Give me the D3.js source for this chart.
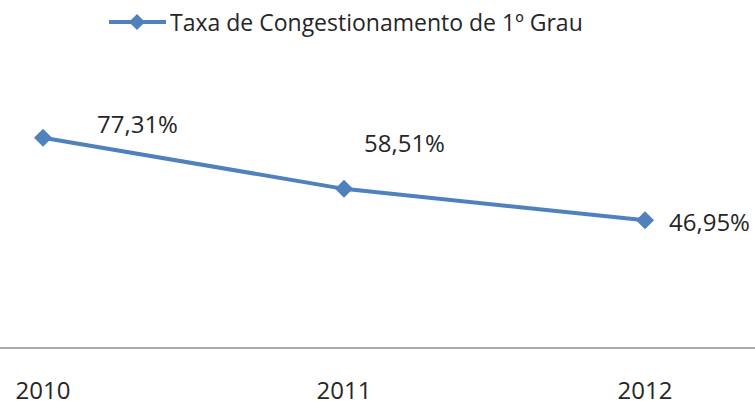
<!DOCTYPE html>
<html>
<head>
<meta charset="utf-8">
<script src="https://cdn.jsdelivr.net/npm/d3@7"></script>
<style>
  body { margin: 0; background: #fff; }
  text { font-family: "Open Sans", sans-serif; fill: #262626; }
</style>
</head>
<body>
<div id="chart"></div>
<script>
// dados
var anos = ["2010", "2011", "2012"];
var taxas = [77.31, 58.51, 46.95];
var rotulos = ["77,31%", "58,51%", "46,95%"];
var serieNome = "Taxa de Congestionamento de 1º Grau";

var width = 755, height = 401;
var azul = "#4f81bd";

var svg = d3.select("#chart").append("svg").attr("width", width).attr("height", height);

var x = d3.scalePoint().domain(anos).range([43, 645]);
var y = d3.scaleLinear().domain([0, 100]).range([348, 76]);

// eixo x
svg.append("line")
    .attr("x1", 0).attr("x2", width)
    .attr("y1", y(0)).attr("y2", y(0))
    .attr("stroke", "#8c8c8c").attr("stroke-width", 1.5);

svg.selectAll(".ano")
    .data(anos)
  .enter().append("text")
    .attr("class", "ano")
    .attr("x", function(d) { return x(d); })
    .attr("y", 399)
    .attr("text-anchor", "middle")
    .attr("font-size", 24)
    .text(function(d) { return d; });

// linha
var line = d3.line()
    .x(function(d, i) { return x(anos[i]); })
    .y(function(d) { return y(d); });

svg.append("path")
    .attr("d", line(taxas))
    .attr("fill", "none").attr("stroke", azul).attr("stroke-width", 4);

// losango = quadrado girado 45 graus
var losango = d3.symbol().type(d3.symbolSquare).size(162);

svg.selectAll(".ponto")
    .data(taxas)
  .enter().append("path")
    .attr("class", "ponto")
    .attr("d", losango)
    .attr("transform", function(d, i) { return "translate(" + x(anos[i]) + "," + y(d) + ") rotate(45)"; })
    .attr("fill", azul);

// rotulos de dados
var offsets = [[97, -5], [364, -37], [669, 11]];
svg.selectAll(".rotulo")
    .data(rotulos)
  .enter().append("text")
    .attr("class", "rotulo")
    .attr("x", function(d, i) { return offsets[i][0]; })
    .attr("y", function(d, i) { return y(taxas[i]) + offsets[i][1]; })
    .attr("font-size", 24)
    .text(function(d) { return d; });

// legenda
var leg = svg.append("g").attr("transform", "translate(109,22)");
leg.append("line").attr("x1", 0).attr("x2", 57).attr("y1", 0).attr("y2", 0)
    .attr("stroke", azul).attr("stroke-width", 4);
leg.append("path").attr("d", d3.symbol().type(d3.symbolSquare).size(130))
    .attr("transform", "translate(28,0) rotate(45)").attr("fill", azul);
leg.append("text").attr("x", 61).attr("y", 9).attr("font-size", 23).text(serieNome);
</script>
</body>
</html>
